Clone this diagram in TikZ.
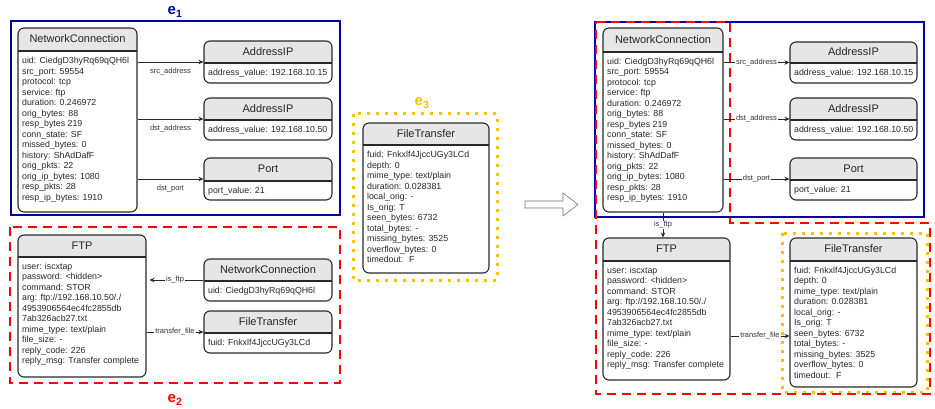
\documentclass[tikz,border=0pt]{standalone}
\usepackage{fontspec}
\setmainfont{Liberation Sans}
\usetikzlibrary{arrows.meta}

\definecolor{eblue}{RGB}{0,0,170}
\definecolor{ered}{RGB}{255,0,0}
\definecolor{eorange}{RGB}{255,192,0}
\definecolor{hdrgray}{RGB}{230,230,230}
\definecolor{edgegray}{RGB}{40,40,40}

\tikzset{
  entity/.style={draw=edgegray, line width=1.1pt, rounded corners=6pt, inner sep=0pt,
    path picture={
      \fill[hdrgray, sharp corners] (path picture bounding box.north west) rectangle ([yshift=-#1]path picture bounding box.north east);
      \draw[edgegray, line width=1.1pt, sharp corners] ([yshift=-#1]path picture bounding box.north west) -- ([yshift=-#1]path picture bounding box.north east);}},
  entity/.default=22pt,
  enttitle/.style={inner sep=0pt, font=\fontsize{11}{13}\selectfont, text=black!85},
  entattrs/.style={anchor=north west, inner sep=0pt, align=left, font=\fontsize{8.8}{10.5}\selectfont, text=black!85},
  rel/.style={draw=edgegray, line width=0.7pt, -{Stealth[length=5pt,width=4.5pt]}},
  rellabel/.style={font=\fontsize{7.5}{9}\selectfont, text=black!80},
  onlinelbl/.style={rellabel, fill=white, inner sep=1pt},
  e1box/.style={draw=eblue, line width=1.6pt},
  e2box/.style={draw=ered, line width=2.6pt, dash pattern=on 9pt off 6pt},
  e3box/.style={draw=eorange, line width=3pt, dash pattern=on 3pt off 6pt},
  elabel/.style={font=\fontsize{15}{15}\selectfont\bfseries},
}

\begin{document}
\begin{tikzpicture}[x=1pt, y=-1pt]
  \useasboundingbox (0,0) rectangle (935,409);

  % Draw the groups (left side)
  \draw[e1box] (11,21) rectangle (340,215);
  \draw[e2box] (10,227) rectangle (340,383);
  \draw[e3box] (353,114) rectangle (497,280);
  \node[elabel, text=eblue] (e1) at (175,12) {e\textsubscript{1}};
  \node[elabel, text=ered] (e2) at (175,400) {e\textsubscript{2}};
  \node[elabel, text=eorange] (e3) at (422,103) {e\textsubscript{3}};

  % Draw the entities of e1
  \node[entity=23pt, minimum width=119pt, minimum height=184pt] (nc1) at (77.5,120) {};
  \node[enttitle] (nc1t) at ([yshift=-11.5pt]nc1.north) {NetworkConnection};
  \node[entattrs] (nc1b) at ([xshift=4.5pt,yshift=-29.5pt]nc1.north west) {uid: CiedgD3hyRq69qQH6l\\src\_port: 59554\\protocol: tcp\\service: ftp\\duration: 0.246972\\orig\_bytes: 88\\resp\_bytes 219\\conn\_state: SF\\missed\_bytes: 0\\history: ShAdDafF\\orig\_pkts: 22\\orig\_ip\_bytes: 1080\\resp\_pkts: 28\\resp\_ip\_bytes: 1910};
  \node[entity, minimum width=128pt, minimum height=42pt] (ip1) at (268,62) {};
  \node[enttitle] (ip1t) at ([yshift=-11pt]ip1.north) {AddressIP};
  \node[entattrs] (ip1b) at ([xshift=4.5pt,yshift=-28.5pt]ip1.north west) {address\_value: 192.168.10.15};
  \node[entity, minimum width=128pt, minimum height=42pt] (ip2) at (268,119) {};
  \node[enttitle] (ip2t) at ([yshift=-11pt]ip2.north) {AddressIP};
  \node[entattrs] (ip2b) at ([xshift=4.5pt,yshift=-28.5pt]ip2.north west) {address\_value: 192.168.10.50};
  \node[entity=23pt, minimum width=128pt, minimum height=42pt] (pt1) at (268,179) {};
  \node[enttitle] (pt1t) at ([yshift=-11.5pt]pt1.north) {Port};
  \node[entattrs] (pt1b) at ([xshift=4.5pt,yshift=-29pt]pt1.north west) {port\_value: 21};
  \draw[rel] (nc1.east |- ip1.west) -- node[rellabel, below=2pt] {src\_address} (ip1.west);
  \draw[rel] (nc1.east |- ip2.west) -- node[rellabel, below=2pt] {dst\_address} (ip2.west);
  \draw[rel] (nc1.east |- pt1.west) -- node[rellabel, below=2pt] {dst\_port} (pt1.west);

  % Draw the entities of e2
  \node[entity, minimum width=128pt, minimum height=142pt] (ftp1) at (82,306) {};
  \node[enttitle] (ftp1t) at ([yshift=-11pt]ftp1.north) {FTP};
  \node[entattrs] (ftp1b) at ([xshift=4.5pt,yshift=-28pt]ftp1.north west) {user: iscxtap\\password: <hidden>\\command: STOR\\arg: ftp://192.168.10.50/./\\4953906564ec4fc2855db\\7ab326acb27.txt\\mime\_type: text/plain\\file\_size: -\\reply\_code: 226\\reply\_msg: Transfer complete};
  \node[entity, minimum width=128pt, minimum height=42pt] (nc2) at (268,280) {};
  \node[enttitle] (nc2t) at ([yshift=-11pt]nc2.north) {NetworkConnection};
  \node[entattrs] (nc2b) at ([xshift=4.5pt,yshift=-28.5pt]nc2.north west) {uid: CiedgD3hyRq69qQH6l};
  \node[entity, minimum width=128pt, minimum height=42pt] (ft1) at (268,332) {};
  \node[enttitle] (ft1t) at ([yshift=-11pt]ft1.north) {FileTransfer};
  \node[entattrs] (ft1b) at ([xshift=4.5pt,yshift=-28.5pt]ft1.north west) {fuid: Fnkxlf4JjccUGy3LCd};
  \draw[rel, shorten >=3pt] (nc2.west) -- node[onlinelbl] {is\_ftp} (ftp1.east |- nc2.west);
  \draw[rel] (ftp1.east |- ft1.west) -- node[onlinelbl] {transfer\_file} (ft1.west);

  % Draw the entity of e3
  \node[entity, minimum width=126pt, minimum height=150pt] (ft2) at (426,198) {};
  \node[enttitle] (ft2t) at ([yshift=-11pt]ft2.north) {FileTransfer};
  \node[entattrs] (ft2b) at ([xshift=4.5pt,yshift=-28.5pt]ft2.north west) {fuid: Fnkxlf4JjccUGy3LCd\\depth: 0\\mime\_type: text/plain\\duration: 0.028381\\local\_orig: -\\Is\_orig: T\\seen\_bytes: 6732\\total\_bytes: -\\missing\_bytes: 3525\\overflow\_bytes: 0\\timedout: \ F};

  % Draw the merge arrow
  \draw[black!55, fill=white, line width=0.6pt] (525,201) -- (563,201) -- (563,193) -- (578,204.5)
    -- (563,216) -- (563,208) -- (525,208) -- cycle;

  % Draw the merged graph (right side)
  \draw[e1box] (595,22) rectangle (924,217);
  \draw[e3box] (782,233) rectangle (927,392);
  \draw[e2box] (596,22) -- (730,22) -- (730,223) -- (930,223) -- (930,394) -- (596,394) -- cycle;

  \node[entity=24pt, minimum width=120pt, minimum height=184pt] (nc3) at (663,120) {};
  \node[enttitle] (nc3t) at ([yshift=-12pt]nc3.north) {NetworkConnection};
  \node[entattrs] (nc3b) at ([xshift=4.5pt,yshift=-30pt]nc3.north west) {uid: CiedgD3hyRq69qQH6l\\src\_port: 59554\\protocol: tcp\\service: ftp\\duration: 0.246972\\orig\_bytes: 88\\resp\_bytes 219\\conn\_state: SF\\missed\_bytes: 0\\history: ShAdDafF\\orig\_pkts: 22\\orig\_ip\_bytes: 1080\\resp\_pkts: 28\\resp\_ip\_bytes: 1910};
  \node[entity=21pt, minimum width=127pt, minimum height=41pt] (ip3) at (853.5,62.5) {};
  \node[enttitle] (ip3t) at ([yshift=-10.5pt]ip3.north) {AddressIP};
  \node[entattrs] (ip3b) at ([xshift=4.5pt,yshift=-27.5pt]ip3.north west) {address\_value: 192.168.10.15};
  \node[entity, minimum width=127pt, minimum height=42pt] (ip4) at (853.5,119) {};
  \node[enttitle] (ip4t) at ([yshift=-11pt]ip4.north) {AddressIP};
  \node[entattrs] (ip4b) at ([xshift=4.5pt,yshift=-28.5pt]ip4.north west) {address\_value: 192.168.10.50};
  \node[entity, minimum width=127pt, minimum height=42pt] (pt2) at (853.5,179) {};
  \node[enttitle] (pt2t) at ([yshift=-11pt]pt2.north) {Port};
  \node[entattrs] (pt2b) at ([xshift=4.5pt,yshift=-28.5pt]pt2.north west) {port\_value: 21};
  \draw[rel] (nc3.east |- ip3.west) -- node[onlinelbl] {src\_address} (ip3.west);
  \draw[rel] (nc3.east |- ip4.west) -- node[onlinelbl] {dst\_address} (ip4.west);
  \draw[rel] (nc3.east |- pt2.west) -- node[onlinelbl] {dst\_port} (pt2.west);

  \node[entity=23pt, minimum width=127pt, minimum height=142pt] (ftp2) at (666.5,309) {};
  \node[enttitle] (ftp2t) at ([yshift=-11.5pt]ftp2.north) {FTP};
  \node[entattrs] (ftp2b) at ([xshift=4.5pt,yshift=-29pt]ftp2.north west) {user: iscxtap\\password: <hidden>\\command: STOR\\arg: ftp://192.168.10.50/./\\4953906564ec4fc2855db\\7ab326acb27.txt\\mime\_type: text/plain\\file\_size: -\\reply\_code: 226\\reply\_msg: Transfer complete};
  \node[entity=23pt, minimum width=127pt, minimum height=149pt] (ft3) at (853.5,312.5) {};
  \node[enttitle] (ft3t) at ([yshift=-11.5pt]ft3.north) {FileTransfer};
  \node[entattrs] (ft3b) at ([xshift=4.5pt,yshift=-29pt]ft3.north west) {fuid: Fnkxlf4JjccUGy3LCd\\depth: 0\\mime\_type: text/plain\\duration: 0.028381\\local\_orig: -\\Is\_orig: T\\seen\_bytes: 6732\\total\_bytes: -\\missing\_bytes: 3525\\overflow\_bytes: 0\\timedout: \ F};
  \draw[rel] (nc3.south) -- node[onlinelbl] {is\_ftp} (nc3.south |- ftp2.north);
  \draw[rel] ([yshift=-27pt]ftp2.east) -- node[onlinelbl] {transfer\_file} ([yshift=-27pt]ftp2.east -| ft3.west);
\end{tikzpicture}
\end{document}
